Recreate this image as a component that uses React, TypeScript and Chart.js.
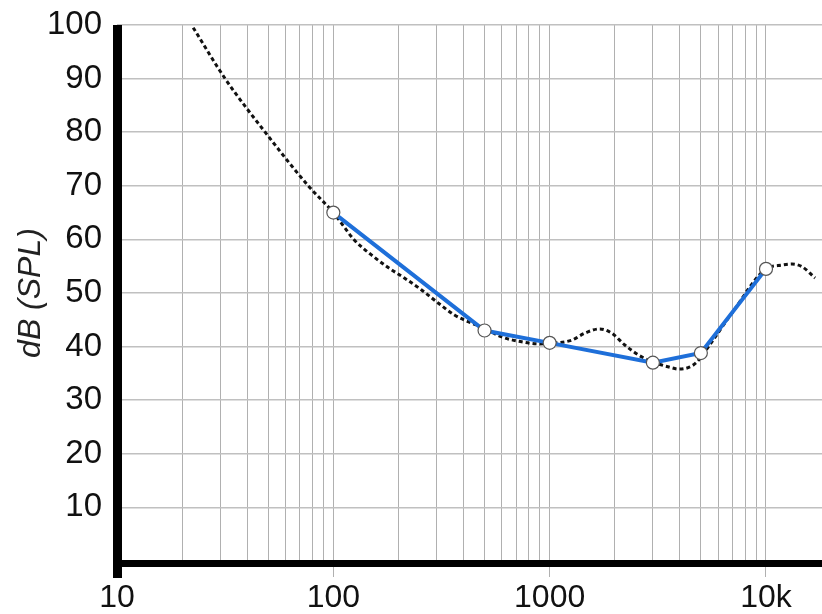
import React, { useEffect, useRef } from "react";
import { Chart, registerables } from "chart.js";

Chart.register(...registerables);

// Measured points (blue line)
const measFreq = [100, 500, 1000, 3000, 5000, 10000];
const measDb = [65, 43, 40.7, 37, 38.8, 54.5];

// Reference threshold curve (dashed)
const curveFreq = [22.5, 31.6, 48.4, 76.6, 100, 125, 150, 180, 213, 255, 306, 363, 435, 484, 600, 742, 889, 1000, 1265, 1452, 1703, 1936, 2224, 2582, 3062, 3556, 3954, 4446, 4790, 5166, 7000, 10000, 11860, 13180, 14680, 16860];
const curveDb = [99.5, 90, 80, 70, 65, 59.9, 57.1, 54.7, 52.8, 50.6, 48.1, 45.9, 44.4, 43.7, 41.8, 40.9, 40.5, 40.6, 41.2, 42.5, 43.3, 42.5, 40.3, 38.4, 37, 36.2, 35.8, 36.2, 37.1, 38.8, 46.4, 54.5, 55.2, 55.4, 54.9, 52.8];

// Axis ticks
const decades = [10, 100, 1000];
const multipliers = [1, 2, 3, 4, 5, 6, 7, 8, 9];
const xLastTick = 10000;
const xLabelValues = [10, 100, 1000, 10000];
const xLabelTexts = ["10", "100", "1000", "10k"];
const xMin = 10;
const xMax = 18150;
const yMin = 0;
const yMax = 100;
const yStep = 10;

const FONT = "'Liberation Sans', Arial, Helvetica, sans-serif";

const zeroPad = (scale: any) => {
  scale.paddingTop = 0;
  scale.paddingBottom = 0;
  scale.paddingLeft = 0;
  scale.paddingRight = 0;
};

const axesPlugin = {
  id: "thickAxes",
  beforeDatasetsDraw(chart: any) {
    const { ctx, chartArea } = chart;
    const { left, right, top, bottom } = chartArea;
    ctx.save();
    ctx.fillStyle = "#000000";
    // vertical axis, extends a little below the horizontal one
    ctx.fillRect(left - 4, top, 9, bottom + 17 - top);
    // horizontal axis
    ctx.fillRect(left - 4, bottom - 1, right - left + 4, 7);
    ctx.restore();
  },
};

export default function App() {
  const ref = useRef<HTMLCanvasElement | null>(null);

  useEffect(() => {
    if (!ref.current) return;
    const xTicks: number[] = [];
    decades.forEach((d) => multipliers.forEach((m) => xTicks.push(d * m)));
    xTicks.push(xLastTick);

    const chart = new Chart(ref.current, {
      type: "line",
      data: {
        datasets: [
          {
            label: "measured",
            data: measFreq.map((f, i) => ({ x: f, y: measDb[i] })),
            borderColor: "#1e6fd9",
            borderWidth: 4,
            pointRadius: 6.5,
            pointBackgroundColor: "#ffffff",
            pointBorderColor: "#555555",
            pointBorderWidth: 1.2,
            tension: 0,
          },
          {
            label: "threshold",
            data: curveFreq.map((f, i) => ({ x: f, y: curveDb[i] })),
            borderColor: "#111111",
            borderWidth: 3,
            borderDash: [4, 3],
            pointRadius: 0,
            cubicInterpolationMode: "monotone",
          },
        ],
      },
      plugins: [axesPlugin],
      options: {
        responsive: false,
        animation: false,
        layout: { autoPadding: false, padding: { top: 25, left: 0, right: 0, bottom: 0 } },
        plugins: { legend: { display: false }, tooltip: { enabled: false } },
        scales: {
          x: {
            type: "logarithmic",
            min: xMin,
            max: xMax,
            afterBuildTicks: (scale: any) => {
              scale.ticks = xTicks.map((v) => ({ value: v }));
            },
            afterFit: (scale: any) => {
              scale.height = 53;
              zeroPad(scale);
            },
            grid: {
              color: (ctx: any) => (ctx.tick && ctx.tick.value === xMin ? "rgba(0,0,0,0)" : "#b0b0b0"),
              lineWidth: 1,
              drawTicks: true,
              tickLength: 16,
              tickColor: (ctx: any) => {
                const v = ctx.tick ? ctx.tick.value : 0;
                if (v === xMin) return "rgba(0,0,0,0)";
                return xLabelValues.includes(v) ? "#b0b0b0" : "rgba(0,0,0,0)";
              },
              tickWidth: 1,
            },
            border: { display: false },
            ticks: {
              autoSkip: false,
              maxRotation: 0,
              minRotation: 0,
              padding: 2,
              color: "#111111",
              font: { family: FONT, size: 32 },
              callback: (v: any) => {
                const idx = xLabelValues.indexOf(Number(v));
                return idx >= 0 ? xLabelTexts[idx] : "";
              },
            },
          },
          y: {
            type: "linear",
            min: yMin,
            max: yMax,
            afterFit: (scale: any) => {
              scale.width = 117;
              zeroPad(scale);
            },
            grid: {
              color: (ctx: any) => (ctx.tick && ctx.tick.value === yMin ? "rgba(0,0,0,0)" : "#c0c0c0"),
              lineWidth: 1.5,
              drawTicks: false,
            },
            border: { display: false },
            title: {
              display: true,
              text: "dB (SPL)",
              color: "#222222",
              font: { family: FONT, size: 32, style: "italic" },
              padding: { top: 12, bottom: 0 },
            },
            ticks: {
              stepSize: yStep,
              padding: 15,
              color: "#111111",
              font: { family: FONT, size: 33 },
              callback: (v: any) => (Number(v) === yMin ? "" : String(v)),
            },
          },
        },
      },
    });
    return () => chart.destroy();
  }, []);

  return (
    <div style={{ position: "fixed", left: 0, top: 0, width: 822, height: 614, background: "#ffffff" }}>
      <canvas ref={ref} width={822} height={614} style={{ display: "block" }} />
    </div>
  );
}
